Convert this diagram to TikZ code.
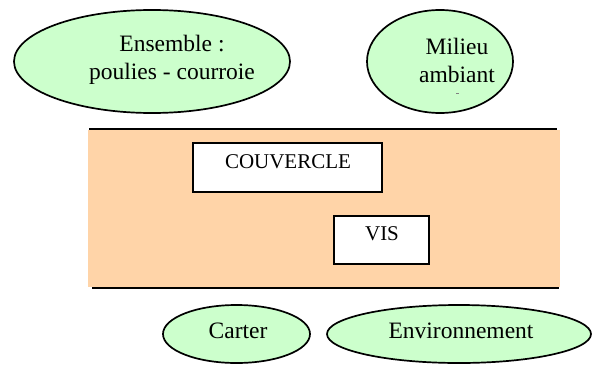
\documentclass[tikz,border=0pt]{standalone}
\usepackage{fontspec}
\setmainfont{Liberation Serif}
\usetikzlibrary{shapes.geometric}
\definecolor{mint}{HTML}{CCFFCC}
\definecolor{peach}{HTML}{FFD4A8}
\begin{document}
\begin{tikzpicture}[x=1pt,y=-1pt,
  blob/.style={ellipse,draw=black,fill=mint,line width=1.7pt,inner sep=0pt},
  part/.style={rectangle,draw=black,fill=white,line width=1.5pt,inner sep=0pt},
  lbl/.style={inner sep=0pt,align=center,font=\fontsize{23.5}{28}\selectfont},
  plbl/.style={inner sep=0pt,align=center,font=\fontsize{21}{25}\selectfont},
  rule/.style={line width=1.6pt,draw=black}]
\useasboundingbox (0,0) rectangle (593,369);

% shaded band holding the parts
\fill[peach] (88,130) rectangle (560,287);
\coordinate (t1) at (89,129);
\coordinate (t2) at (557,129);
\coordinate (b1) at (92,288);
\coordinate (b2) at (559,288);
\draw[rule] (t1) -- (t2);
\draw[rule] (b1) -- (b2);

% outer elements
\node[blob,minimum width=276pt,minimum height=103pt] (ens) at (152,61.5) {};
\node[lbl] (ensT) at (172,60) {Ensemble :\\poulies - courroie};
\node[blob,minimum width=146pt,minimum height=103pt] (mil) at (440,61.5) {};
\node[lbl] (milT) at (457,60) {Milieu\\ambiant};
\coordinate (d1) at (456,93);
\coordinate (d2) at (459,93);
\draw[gray,line width=0.6pt] (d1) -- (d2);

\node[blob,minimum width=147pt,minimum height=58pt] (car) at (236.5,334) {};
\node[lbl] (carT) at (238,331) {Carter};
\node[blob,minimum width=264pt,minimum height=58pt] (env) at (459,334) {};
\node[lbl] (envT) at (461,331) {Environnement};

% parts inside the band
\node[part,minimum width=189pt,minimum height=49pt] (cov) at (287.5,167.5) {};
\node[plbl] (covT) at (288,162) {COUVERCLE};
\node[part,minimum width=95pt,minimum height=48pt] (vis) at (381.5,240) {};
\node[plbl] (visT) at (382,234) {VIS};
\end{tikzpicture}
\end{document}
